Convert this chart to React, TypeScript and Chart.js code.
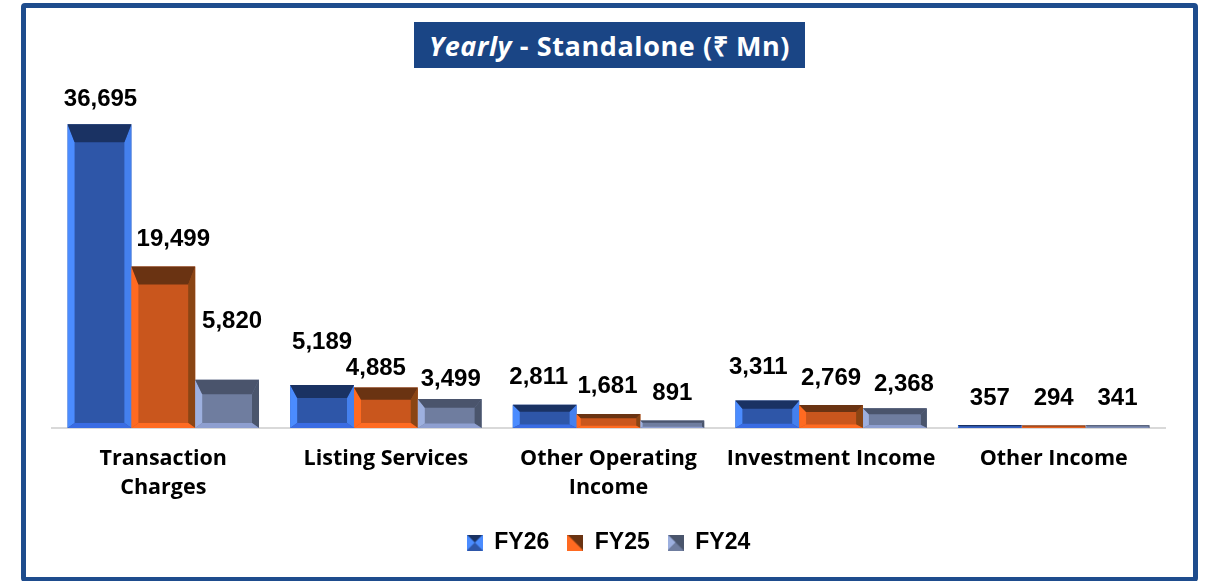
import React, { useEffect, useRef } from 'react';
import { Chart, registerables } from 'chart.js';

Chart.register(...registerables);

// ---- data ----
const categories: (string | string[])[] = [
  ['Transaction', 'Charges'],
  'Listing Services',
  ['Other Operating', 'Income'],
  'Investment Income',
  'Other Income',
];
const seriesNames = ['FY26', 'FY25', 'FY24'];
const fy26 = [36695, 5189, 2811, 3311, 357];
const fy25 = [19499, 4885, 1681, 2769, 294];
const fy24 = [5820, 3499, 891, 2368, 341];
const yMax = 40000;

// ---- styling ----
const palettes = [
  { face: '#2E56A8', top: '#1A3263', left: '#4B8CFF', right: '#4480EE', bottom: '#3A6CE3' },
  { face: '#C9561D', top: '#6A3312', left: '#FF6A21', right: '#8A4514', bottom: '#FF6B22' },
  { face: '#6F7D9F', top: '#4A546C', left: '#9DB0DF', right: '#4A556C', bottom: '#8E9FD0' },
];
// label nudges (px) relative to the bar top, per series
const labelLift = [
  [25, 43, 27, 33, 27],
  [27, 19, 28, 27, 27],
  [58, 20, 27, 24, 27],
];
const labelShift = [
  [1, 0, -6, -9, 0],
  [10, -10, -1, 0, 0],
  [5, 1, 0, 9, 0],
];

function makeIcon(i: number): HTMLCanvasElement {
  const c = document.createElement('canvas');
  c.width = 16;
  c.height = 16;
  const g = c.getContext('2d')!;
  const p = palettes[i];
  if (i === 0) {
    g.fillStyle = p.left;
    g.fillRect(0, 0, 16, 16);
    g.fillStyle = p.top;
    g.beginPath(); g.moveTo(0, 0); g.lineTo(16, 0); g.lineTo(8, 8); g.closePath(); g.fill();
    g.fillStyle = p.face;
    g.beginPath(); g.moveTo(0, 16); g.lineTo(16, 16); g.lineTo(8, 8); g.closePath(); g.fill();
  } else if (i === 1) {
    g.fillStyle = p.left;
    g.fillRect(0, 0, 16, 16);
    g.fillStyle = p.top;
    g.beginPath(); g.moveTo(0, 0); g.lineTo(16, 0); g.lineTo(16, 16); g.closePath(); g.fill();
  } else {
    g.fillStyle = p.right;
    g.fillRect(0, 0, 16, 16);
    g.fillStyle = p.left;
    g.beginPath(); g.moveTo(0, 0); g.lineTo(0, 16); g.lineTo(8, 8); g.closePath(); g.fill();
    g.fillStyle = p.face;
    g.beginPath(); g.moveTo(0, 16); g.lineTo(16, 16); g.lineTo(8, 8); g.closePath(); g.fill();
  }
  return c;
}

const bevelPlugin = {
  id: 'bevel',
  afterDatasetsDraw(chart: any) {
    const ctx = chart.ctx;
    chart.data.datasets.forEach((_ds: any, di: number) => {
      const meta = chart.getDatasetMeta(di);
      const p = palettes[di];
      meta.data.forEach((el: any) => {
        const { x, y, base, width } = el.getProps(['x', 'y', 'base', 'width'], true);
        const L = x - width / 2;
        const R = x + width / 2;
        const T = Math.min(y, base);
        const B = Math.max(y, base);
        const h = B - T;
        const t = Math.min(18, h * 0.3);
        const s = Math.min(7, h * 0.3);
        const b = Math.min(5, h * 0.15);
        const poly = (pts: number[][], col: string) => {
          ctx.fillStyle = col;
          ctx.beginPath();
          ctx.moveTo(pts[0][0], pts[0][1]);
          for (let k = 1; k < pts.length; k++) ctx.lineTo(pts[k][0], pts[k][1]);
          ctx.closePath();
          ctx.fill();
        };
        ctx.save();
        poly([[L, T], [L + s, T + t], [L + s, B - b], [L, B]], p.left);
        poly([[R, T], [R, B], [R - s, B - b], [R - s, T + t]], p.right);
        poly([[L, B], [L + s, B - b], [R - s, B - b], [R, B]], p.bottom);
        poly([[L, T], [R, T], [R - s, T + t], [L + s, T + t]], p.top);
        ctx.restore();
      });
    });
  },
};

const valueLabelPlugin = {
  id: 'valueLabels',
  afterDatasetsDraw(chart: any) {
    const ctx = chart.ctx;
    ctx.save();
    ctx.font = 'bold 24px "Liberation Sans", Arial, sans-serif';
    ctx.fillStyle = '#000000';
    ctx.textAlign = 'center';
    ctx.textBaseline = 'middle';
    chart.data.datasets.forEach((ds: any, di: number) => {
      const meta = chart.getDatasetMeta(di);
      meta.data.forEach((el: any, j: number) => {
        const { x, y } = el.getProps(['x', 'y'], true);
        const v = ds.data[j] as number;
        ctx.fillText(v.toLocaleString('en-US'), x + labelShift[di][j], y - labelLift[di][j]);
      });
    });
    ctx.restore();
  },
};

export default function App() {
  const ref = useRef<HTMLCanvasElement>(null);

  useEffect(() => {
    const icons = [0, 1, 2].map(makeIcon);
    const series = [fy26, fy25, fy24];
    const chart = new Chart(ref.current!, {
      type: 'bar',
      data: {
        labels: categories,
        datasets: series.map((d, i) => ({
          label: seriesNames[i],
          data: d,
          backgroundColor: palettes[i].face,
          borderWidth: 0,
          categoryPercentage: 0.86,
          barPercentage: 1.0,
        })),
      },
      options: {
        animation: false,
        responsive: false,
        layout: { padding: { top: 97, left: 52, right: 44, bottom: 17 } },
        scales: {
          x: {
            grid: { display: false },
            border: { display: true, color: '#D9D9D9', width: 2 },
            ticks: {
              color: '#000000',
              padding: 8,
              autoSkip: false,
              maxRotation: 0,
              font: { family: '"Open Sans", sans-serif', weight: 'bold', size: 21.5, lineHeight: 1.35 },
            },
            afterFit: (scale: any) => {
              scale.height += 3;
            },
          },
          y: { display: false, min: 0, max: yMax },
        },
        plugins: {
          title: { display: false },
          tooltip: { enabled: false },
          legend: {
            position: 'bottom',
            labels: {
              usePointStyle: true,
              boxWidth: 16,
              boxHeight: 16,
              padding: 18,
              color: '#000000',
              font: { family: '"Liberation Sans", Arial, sans-serif', weight: 'bold', size: 23 },
              generateLabels: (c: any) =>
                c.data.datasets.map((ds: any, i: number) => ({
                  text: ds.label,
                  pointStyle: icons[i],
                  fillStyle: palettes[i].face,
                  strokeStyle: 'transparent',
                  lineWidth: 0,
                  hidden: false,
                  datasetIndex: i,
                  fontColor: '#000000',
                })),
            },
          },
        },
      } as any,
      plugins: [bevelPlugin, valueLabelPlugin],
    });
    return () => chart.destroy();
  }, []);

  return (
    <div
      style={{
        position: 'fixed',
        left: 0,
        top: 0,
        width: 1209,
        height: 581,
        background: '#ffffff',
        overflow: 'hidden',
      }}
    >
      <div
        style={{
          position: 'absolute',
          left: 21,
          top: 3,
          width: 1177,
          height: 579,
          border: '5px solid #1E4C8D',
          borderRadius: 4,
          boxSizing: 'border-box',
        }}
      />
      <canvas ref={ref} width={1209} height={581} style={{ position: 'absolute', left: 0, top: 0 }} />
      <div
        style={{
          position: 'absolute',
          left: 414,
          top: 22,
          width: 391,
          height: 46,
          background: '#1A4585',
          color: '#ffffff',
          font: '700 27px "Open Sans", sans-serif',
          letterSpacing: '0.6px',
          display: 'flex',
          alignItems: 'center',
          justifyContent: 'center',
          whiteSpace: 'pre',
        }}
      >
        <i>Yearly</i>
        <span> - Standalone (₹ Mn)</span>
      </div>
    </div>
  );
}
